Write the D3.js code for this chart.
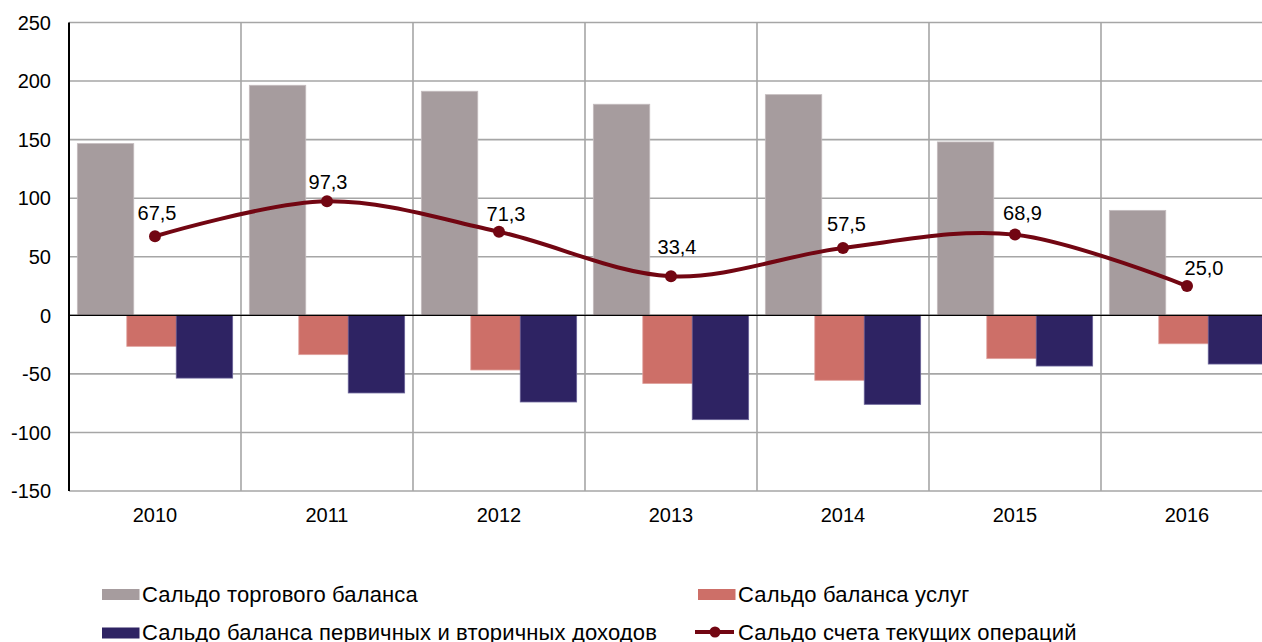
<!DOCTYPE html>
<html>
<head>
<meta charset="utf-8">
<script src="https://cdn.jsdelivr.net/npm/d3@7"></script>
<style>
html,body{margin:0;padding:0;background:#fff;}
svg{display:block;font-family:"Liberation Sans",Arial,sans-serif;}
</style>
</head>
<body>
<svg id="chart" width="1262" height="642"></svg>
<script>
const years = ["2010","2011","2012","2013","2014","2015","2016"];
const tradeBalance = [146.6, 196.4, 191.3, 180.2, 188.4, 148.0, 89.6];
const servicesBalance = [-26.5, -33.6, -46.7, -58.3, -55.5, -37.0, -24.3];
const incomeBalance = [-53.6, -66.3, -74.0, -89.1, -76.0, -43.3, -41.6];
const currentAccount = [67.5, 97.3, 71.3, 33.4, 57.5, 68.9, 25.0];
const currentLabels = ["67,5","97,3","71,3","33,4","57,5","68,9","25,0"];
const yTicks = [-150, -100, -50, 0, 50, 100, 150, 200, 250];
const seriesNames = ["Сальдо торгового баланса","Сальдо баланса услуг","Сальдо баланса первичных и вторичных доходов","Сальдо счета текущих операций"];

const colors = {trade:"#a69c9e", services:"#cd6f68", income:"#2e2363", line:"#720612", grid:"#a6a6a6"};

const svg = d3.select("#chart");
const x = d3.scaleBand().domain(years).range([69, 1273]).padding(0);
const y = d3.scaleLinear().domain([-150, 250]).range([491, 22.5]);
const bw = x.bandwidth();
const barW = bw * 0.328;
const step = bw * 0.2875;

// horizontal gridlines
svg.append("g").selectAll("line").data(yTicks).join("line")
  .attr("x1", 69).attr("x2", 1273)
  .attr("y1", d => y(d)).attr("y2", d => y(d))
  .attr("stroke", colors.grid).attr("stroke-width", 1.6);

// vertical gridlines
const vlines = years.slice(1).map(yr => x(yr)).concat([x(years[years.length-1]) + bw]);
svg.append("g").selectAll("line").data(vlines).join("line")
  .attr("x1", d => d).attr("x2", d => d)
  .attr("y1", y(250)).attr("y2", y(-150))
  .attr("stroke", colors.grid).attr("stroke-width", 1.6);

// bars
function drawBars(vals, offset, fill, stroke) {
  svg.append("g").selectAll("rect").data(vals).join("rect")
    .attr("x", (d, i) => x(years[i]) + bw / 2 + offset - barW / 2)
    .attr("width", barW)
    .attr("y", d => Math.min(y(d), y(0)))
    .attr("height", d => Math.abs(y(d) - y(0)))
    .attr("fill", fill)
    .attr("stroke", stroke).attr("stroke-width", 0.8);
}
drawBars(tradeBalance, -step, colors.trade, "#c4bcbe");
drawBars(servicesBalance, 0, colors.services, "#e0a39e");
drawBars(incomeBalance, step, colors.income, "#6a6399");

// zero line
svg.append("line").attr("x1", 69).attr("x2", 1273)
  .attr("y1", y(0)).attr("y2", y(0))
  .attr("stroke", "#000").attr("stroke-width", 1.3);

// left axis line
svg.append("line").attr("x1", 69).attr("x2", 69)
  .attr("y1", y(250)).attr("y2", y(-150))
  .attr("stroke", "#000").attr("stroke-width", 2);

// y labels
svg.append("g").selectAll("text").data(yTicks).join("text")
  .attr("x", 51).attr("y", d => y(d)).attr("dy", "0.36em")
  .attr("text-anchor", "end").attr("font-size", 20).attr("fill", "#000")
  .text(d => d);

// x labels
svg.append("g").selectAll("text").data(years).join("text")
  .attr("x", d => x(d) + bw / 2).attr("y", 522)
  .attr("text-anchor", "middle").attr("font-size", 20).attr("fill", "#000")
  .text(d => d);

// line
const pts = currentAccount.map((v, i) => [x(years[i]) + bw / 2, y(v)]);
const lineGen = d3.line().curve(d3.curveCatmullRom.alpha(0));
svg.append("path").attr("d", lineGen(pts))
  .attr("fill", "none").attr("stroke", colors.line).attr("stroke-width", 4);
svg.append("g").selectAll("circle").data(pts).join("circle")
  .attr("cx", d => d[0]).attr("cy", d => d[1]).attr("r", 6)
  .attr("fill", colors.line);
// label placement nudges (layout only), [dx, dy] from the marker
const labelNudge = [[2,16],[1,12.5],[7,11],[6,22],[3.5,16.5],[7.5,14.5],[17,11.5]];
svg.append("g").selectAll("text").data(pts).join("text")
  .attr("x", (d, i) => d[0] + labelNudge[i][0]).attr("y", (d, i) => d[1] - labelNudge[i][1])
  .attr("text-anchor", "middle").attr("font-size", 20).attr("fill", "#000")
  .text((d, i) => currentLabels[i]);

// legend
const leg = svg.append("g");
const legFont = 22;
const legSpacing = 0.15;
function legText(xp, yb, label) {
  leg.append("text").attr("x", xp).attr("y", yb).attr("font-size", legFont)
    .attr("letter-spacing", legSpacing).attr("fill", "#000").text(label);
}
function legRect(xp, yb, fill, label) {
  leg.append("rect").attr("x", xp).attr("y", yb - 12.5).attr("width", 37.5).attr("height", 11).attr("fill", fill);
  legText(xp + 40, yb, label);
}
legRect(102, 601.5, colors.trade, seriesNames[0]);
legRect(698, 601.5, colors.services, seriesNames[1]);
legRect(102, 640, colors.income, seriesNames[2]);
leg.append("line").attr("x1", 695).attr("x2", 734).attr("y1", 632).attr("y2", 632)
  .attr("stroke", colors.line).attr("stroke-width", 4);
leg.append("circle").attr("cx", 715).attr("cy", 632).attr("r", 5.5).attr("fill", colors.line);
legText(738, 640, seriesNames[3]);
</script>
</body>
</html>
